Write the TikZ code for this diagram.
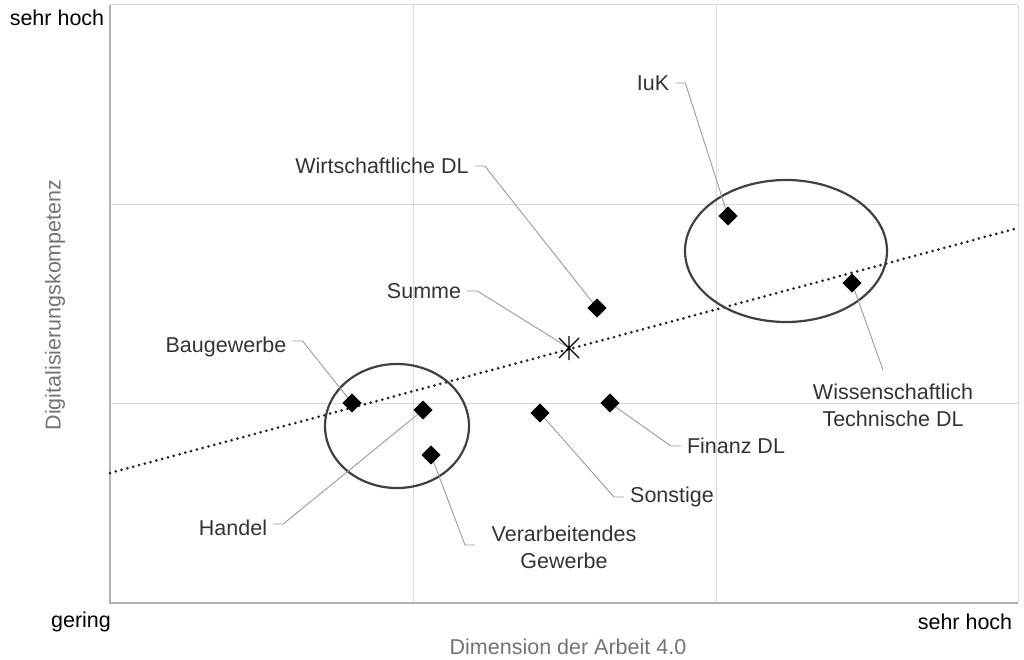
\documentclass[tikz,border=0pt]{standalone}
\usepackage{fontspec}
\setmainfont{Liberation Sans}
\begin{document}
\begin{tikzpicture}[x=1pt,y=-1pt,
  grid/.style={draw=black!15,line width=1pt},
  lead/.style={draw=black!40,line width=0.9pt},
  lab/.style={font=\fontsize{21.5}{24}\selectfont,text=black!80,inner sep=0pt},
  dia/.style={fill=black,draw=black,line width=0.5pt,minimum size=12pt,inner sep=0pt,shape=diamond},
  ell/.style={draw=black!75,line width=2.2pt}]
\useasboundingbox (0,0) rectangle (1024,660);
\pgfdeclareshape{diamond}{\inheritsavedanchors[from=rectangle]\inheritanchor[from=rectangle]{center}\inheritanchorborder[from=rectangle]
 \backgroundpath{\pgfpathmoveto{\pgfpoint{0pt}{9pt}}\pgfpathlineto{\pgfpoint{9pt}{0pt}}\pgfpathlineto{\pgfpoint{0pt}{-9pt}}\pgfpathlineto{\pgfpoint{-9pt}{0pt}}\pgfpathclose}}
% grid
\draw[grid] (413,5) -- (413,603) (716,5) -- (716,603) (1018,5) -- (1018,603);
\draw[grid] (110,205) -- (1018,205) (110,403) -- (1018,403) (110,5) -- (1018,5);
\draw[draw=black!30,line width=1.2pt] (110,5) -- (110,603) -- (1018,603);
% axis labels
\node[lab,text=black] (yh) at (57,18) {sehr hoch};
\node[lab,text=black] (xg) at (81,622) {gering};
\node[lab,text=black] (xh) at (965,622) {sehr hoch};
\node[lab,text=black!55] (xl) at (568,647) {Dimension der Arbeit 4.0};
\node[lab,text=black!55,rotate=90] (yl) at (55,305) {Digitalisierungskompetenz};
% trend
\draw[line width=3pt,dash pattern=on 0pt off 6pt,line cap=round,black!85] (110,473) -- (1018,228);
% ellipses
\draw[ell] (397,426) ellipse [x radius=72,y radius=62];
\draw[ell] (786,251) ellipse [x radius=101,y radius=71];
% markers
\node[dia] (bau) at (352,403) {};
\node[dia] (han) at (423,410) {};
\node[dia] (ver) at (431,455) {};
\node[dia] (son) at (540,413) {};
\node[dia] (fin) at (610,403) {};
\node[dia] (wir) at (597,308) {};
\node[dia] (iuk) at (728,216) {};
\node[dia] (wis) at (852,283) {};
\node[inner sep=0pt,minimum size=20pt] (sum) at (569,348) {};
% labels
\node[lab] (liuk) at (653,83) {IuK};
\node[lab] (lwir) at (382,166) {Wirtschaftliche DL};
\node[lab] (lsum) at (424,291) {Summe};
\node[lab] (lbau) at (226,347) {Baugewerbe};
\node[lab] (lhan) at (233,528) {Handel};
\node[lab,align=center] (lver) at (564,547) {Verarbeitendes\\[3pt]Gewerbe};
\node[lab] (lson) at (672,497) {Sonstige};
\node[lab] (lfin) at (736,446) {Finanz DL};
\node[lab,align=center] (lwis) at (893,405) {Wissenschaftlich\\[3pt]Technische DL};
% leaders
\draw[lead] (liuk.east) ++(6,0) -- ++(10,0) -- (iuk.center);
\draw[lead] (lwir.east) ++(6,0) -- ++(10,0) -- (wir.center);
\draw[lead] (lsum.east) ++(6,0) -- ++(10,0) -- (sum.center);
\draw[lead] (lbau.east) ++(6,-6) -- ++(10,0) -- (bau.center);
\draw[lead] (lhan.east) ++(6,-4) -- ++(10,0) -- (han.center);
\draw[lead] (475,545) -- ++(-10,0) -- (ver.center);
\draw[lead] (lson.west) ++(-6,0) -- ++(-10,0) -- (son.center);
\draw[lead] (lfin.west) ++(-6,0) -- ++(-10,0) -- (fin.center);
\draw[lead] (883,370) -- (wis.center);
\draw[line width=1.2pt] (559,338) -- (579,358) (559,358) -- (579,338) (569,336) -- (569,360);
\node[dia] at (bau) {};\node[dia] at (han) {};\node[dia] at (ver) {};\node[dia] at (son) {};
\node[dia] at (fin) {};\node[dia] at (wir) {};\node[dia] at (iuk) {};\node[dia] at (wis) {};
\end{tikzpicture}
\end{document}
